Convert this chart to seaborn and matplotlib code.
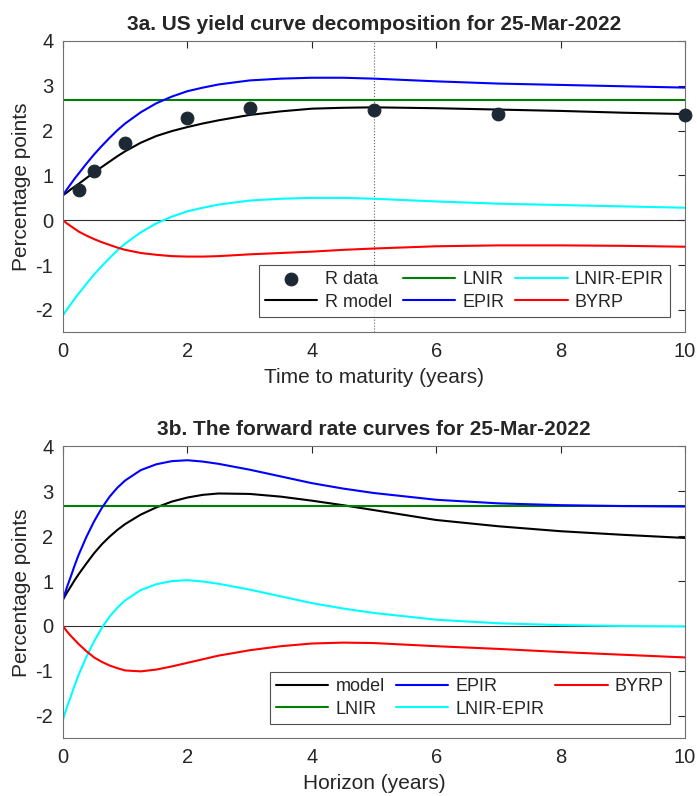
import numpy as np
import pandas as pd
import matplotlib
matplotlib.use("Agg")
import matplotlib.pyplot as plt
import seaborn as sns

t = [0, 0.0625, 0.125, 0.1875, 0.25, 0.375, 0.5, 0.625, 0.75, 0.875, 1.0,
     1.25, 1.5, 1.75, 2.0, 2.25, 2.5, 3.0, 3.5, 4.0, 4.5, 5.0, 6.0, 7.0, 8.0,
     9.0, 10.0]

# 3a. yield curve decomposition
yc_data_t = [0.25, 0.5, 1, 2, 3, 5, 7, 10]
yc_data = [0.67, 1.09, 1.72, 2.29, 2.50, 2.45, 2.38, 2.35]
yc_model = [0.56, 0.62, 0.69, 0.75, 0.81, 0.94, 1.07, 1.19, 1.31, 1.43, 1.54,
            1.73, 1.88, 1.99, 2.08, 2.16, 2.23, 2.35, 2.43, 2.49, 2.51, 2.52,
            2.50, 2.47, 2.44, 2.40, 2.37]
yc_lnir = 2.68
yc_epir = [0.56, 0.69, 0.81, 0.93, 1.04, 1.26, 1.47, 1.66, 1.84, 2.01, 2.16,
           2.41, 2.61, 2.76, 2.88, 2.96, 3.03, 3.12, 3.16, 3.18, 3.18, 3.16,
           3.10, 3.05, 3.02, 2.99, 2.96]
yc_gap = [-2.12, -1.99, -1.87, -1.75, -1.64, -1.42, -1.21, -1.02, -0.84, -0.67,
          -0.52, -0.27, -0.07, 0.08, 0.20, 0.28, 0.35, 0.44, 0.48, 0.50, 0.50,
          0.48, 0.42, 0.37, 0.34, 0.31, 0.28]
yc_byrp = [0, -0.07, -0.13, -0.19, -0.25, -0.34, -0.42, -0.49, -0.55, -0.61,
           -0.66, -0.73, -0.77, -0.80, -0.81, -0.81, -0.80, -0.76, -0.73, -0.70,
           -0.66, -0.63, -0.58, -0.56, -0.56, -0.57, -0.59]

# 3b. forward rate curves
fw_model = [0.59, 0.74, 0.88, 1.02, 1.15, 1.39, 1.62, 1.82, 1.99, 2.14, 2.27,
            2.48, 2.64, 2.77, 2.86, 2.92, 2.95, 2.94, 2.88, 2.79, 2.69, 2.58,
            2.36, 2.22, 2.11, 2.03, 1.96]
fw_lnir = 2.67
fw_epir = [0.59, 0.86, 1.10, 1.35, 1.58, 1.98, 2.33, 2.63, 2.88, 3.08, 3.24,
           3.47, 3.60, 3.67, 3.69, 3.66, 3.61, 3.48, 3.33, 3.18, 3.06, 2.96,
           2.81, 2.73, 2.69, 2.67, 2.66]
fw_gap = [-2.08, -1.81, -1.57, -1.32, -1.09, -0.69, -0.34, -0.04, 0.21, 0.41,
          0.57, 0.80, 0.93, 1.00, 1.02, 0.99, 0.94, 0.81, 0.66, 0.51, 0.39,
          0.29, 0.14, 0.06, 0.02, 0.00, -0.01]
fw_byrp = [0, -0.12, -0.22, -0.31, -0.40, -0.56, -0.70, -0.80, -0.88, -0.94,
           -0.99, -1.01, -0.97, -0.90, -0.82, -0.74, -0.66, -0.54, -0.45, -0.39,
           -0.37, -0.38, -0.45, -0.51, -0.58, -0.64, -0.70]

sns.set_style("white")
plt.rcParams["font.family"] = ["Liberation Sans", "DejaVu Sans"]
plt.rcParams["axes.unicode_minus"] = False
plt.rcParams["axes.edgecolor"] = "#262626"
plt.rcParams["xtick.color"] = "#262626"
plt.rcParams["ytick.color"] = "#262626"

GREEN, BLUE, CYAN, RED = "#008000", "#0000ff", "#00ffff", "#ff0000"
LW = 1.5

fig = plt.figure(figsize=(6.97, 7.96), dpi=100)
ax1 = fig.add_axes([0.0904, 0.5825, 0.8924, 0.366])
ax2 = fig.add_axes([0.0904, 0.0725, 0.8924, 0.3668])


def style_axes(ax, xlabel):
    ax.set_xlim(0, 10)
    ax.set_ylim(-2.5, 4)
    ax.set_xticks([0, 2, 4, 6, 8, 10])
    ax.set_yticks([-2, -1, 0, 1, 2, 3, 4])
    ax.tick_params(direction="in", length=5, width=0.8, top=True, right=True,
                   labelsize=14.5, pad=7)
    for s in ax.spines.values():
        s.set_visible(True)
        s.set_linewidth(0.8)
        s.set_color("#707070")
    ax.set_xlabel(xlabel, fontsize=15, color="#262626", labelpad=5)
    ax.set_ylabel("Percentage points", fontsize=15, color="#262626", labelpad=3)
    ax.axhline(0, color="#303030", lw=0.8, zorder=1)


def add_legend(ax, anchor):
    leg = ax.legend(ncol=3, loc="lower right", bbox_to_anchor=anchor,
                    borderaxespad=0, fontsize=13, frameon=True, fancybox=False,
                    edgecolor="#262626", handlelength=2.9, columnspacing=0.6,
                    handletextpad=0.4, borderpad=0.35, labelspacing=0.3)
    leg.get_frame().set_linewidth(0.8)


# ---- 3a
df1 = pd.DataFrame({"t": t, "model": yc_model, "epir": yc_epir,
                    "gap": yc_gap, "byrp": yc_byrp})
dots = pd.DataFrame({"t": yc_data_t, "r": yc_data})

ax1.axvline(5, color="#606060", lw=0.8, ls=":", zorder=1)
sns.scatterplot(data=dots, x="t", y="r", ax=ax1, s=85, color="#1c2833",
                edgecolor="#1c2833", zorder=5, label="R data", clip_on=False)
sns.lineplot(data=df1, x="t", y="model", ax=ax1, color="black", lw=LW, label="R model")
ax1.axhline(yc_lnir, color=GREEN, lw=LW, label="LNIR")
sns.lineplot(data=df1, x="t", y="epir", ax=ax1, color=BLUE, lw=LW, label="EPIR")
sns.lineplot(data=df1, x="t", y="gap", ax=ax1, color=CYAN, lw=LW, label="LNIR-EPIR")
sns.lineplot(data=df1, x="t", y="byrp", ax=ax1, color=RED, lw=LW, label="BYRP")
style_axes(ax1, "Time to maturity (years)")
ax1.set_title("3a. US yield curve decomposition for 25-Mar-2022",
              fontsize=15, fontweight="bold", pad=8)
add_legend(ax1, (0.976, 0.053))

# ---- 3b
df2 = pd.DataFrame({"t": t, "model": fw_model, "epir": fw_epir,
                    "gap": fw_gap, "byrp": fw_byrp})
sns.lineplot(data=df2, x="t", y="model", ax=ax2, color="black", lw=LW, label="model")
ax2.axhline(fw_lnir, color=GREEN, lw=LW, label="LNIR")
sns.lineplot(data=df2, x="t", y="epir", ax=ax2, color=BLUE, lw=LW, label="EPIR")
sns.lineplot(data=df2, x="t", y="gap", ax=ax2, color=CYAN, lw=LW, label="LNIR-EPIR")
sns.lineplot(data=df2, x="t", y="byrp", ax=ax2, color=RED, lw=LW, label="BYRP")
style_axes(ax2, "Horizon (years)")
ax2.set_title("3b. The forward rate curves for 25-Mar-2022",
              fontsize=15, fontweight="bold", pad=8)
add_legend(ax2, (0.976, 0.049))

fig.savefig("out.png", dpi=100)
